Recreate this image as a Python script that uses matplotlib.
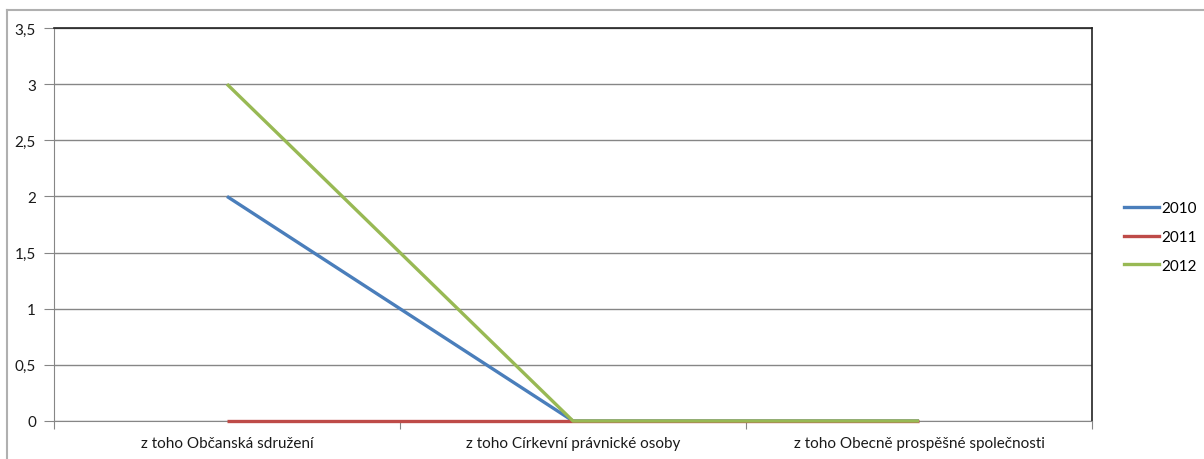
import matplotlib
matplotlib.use("Agg")
import matplotlib.pyplot as plt
from matplotlib.lines import Line2D
from matplotlib.ticker import FuncFormatter

categories = ["z toho Občanská sdružení",
              "z toho Církevní právnické osoby",
              "z toho Obecně prospěšné společnosti"]
years = ["2010", "2011", "2012"]
values_2010 = [2, 0, 0]
values_2011 = [0, 0, 0]
values_2012 = [3, 0, 0]
yticks = [0, 0.5, 1, 1.5, 2, 2.5, 3, 3.5]

colors = ["#4a7ebb", "#be4b48", "#98b954"]
grid_color = "#868686"

plt.rcParams['font.family'] = ['Lato', 'DejaVu Sans']

fig = plt.figure(figsize=(12.04, 4.6), dpi=100)
ax = fig.add_axes([54 / 1204, 1 - 422 / 460, (1092 - 54) / 1204, (422 - 29) / 460])

x = list(range(len(categories)))
for name, vals, c in zip(years, [values_2010, values_2011, values_2012], colors):
    ax.plot(x, vals, color=c, lw=2.4, label=name, solid_capstyle='butt', zorder=3,
            clip_on=False)

ax.set_xlim(-0.5, len(categories) - 0.5)
ax.set_ylim(0, 3.5)
ax.set_yticks(yticks)
ax.yaxis.set_major_formatter(FuncFormatter(lambda v, p: f"{v:g}".replace(".", ",")))
ax.grid(axis='y', color=grid_color, lw=1, zorder=1)

ax.set_xticks([i - 0.5 for i in range(len(categories) + 1)])
ax.set_xticklabels([])
ax.set_xticks(x, minor=True)
ax.set_xticklabels(categories, minor=True, fontsize=11, color="#1a1a1a")
ax.tick_params(axis='x', which='major', direction='out', length=6, color=grid_color)
ax.tick_params(axis='x', which='minor', length=0, pad=11)
ax.tick_params(axis='y', direction='out', length=7, color=grid_color, labelsize=11,
               labelcolor="#1a1a1a", pad=6)

for s in ['left', 'bottom']:
    ax.spines[s].set_color(grid_color)
for s in ['top', 'right']:
    ax.spines[s].set_color("#222222")
    ax.spines[s].set_linewidth(1.2)

handles = [Line2D([], [], color=c, lw=2.4) for c in colors]
fig.legend(handles, years, loc='center left', bbox_to_anchor=(1110 / 1204, 1 - 238 / 460),
           frameon=False, fontsize=11, handlelength=2.3, handletextpad=0.15,
           labelspacing=0.95)

# outer chart border (cut off at right and bottom)
fig.add_artist(Line2D([7 / 1204, 7 / 1204], [0, 1 - 10.5 / 460], color="#b0b0b0", lw=1.5,
                      transform=fig.transFigure))
fig.add_artist(Line2D([7 / 1204, 1], [1 - 10.5 / 460, 1 - 10.5 / 460], color="#b0b0b0", lw=1.5,
                      transform=fig.transFigure))

fig.savefig("out.png", dpi=100)
